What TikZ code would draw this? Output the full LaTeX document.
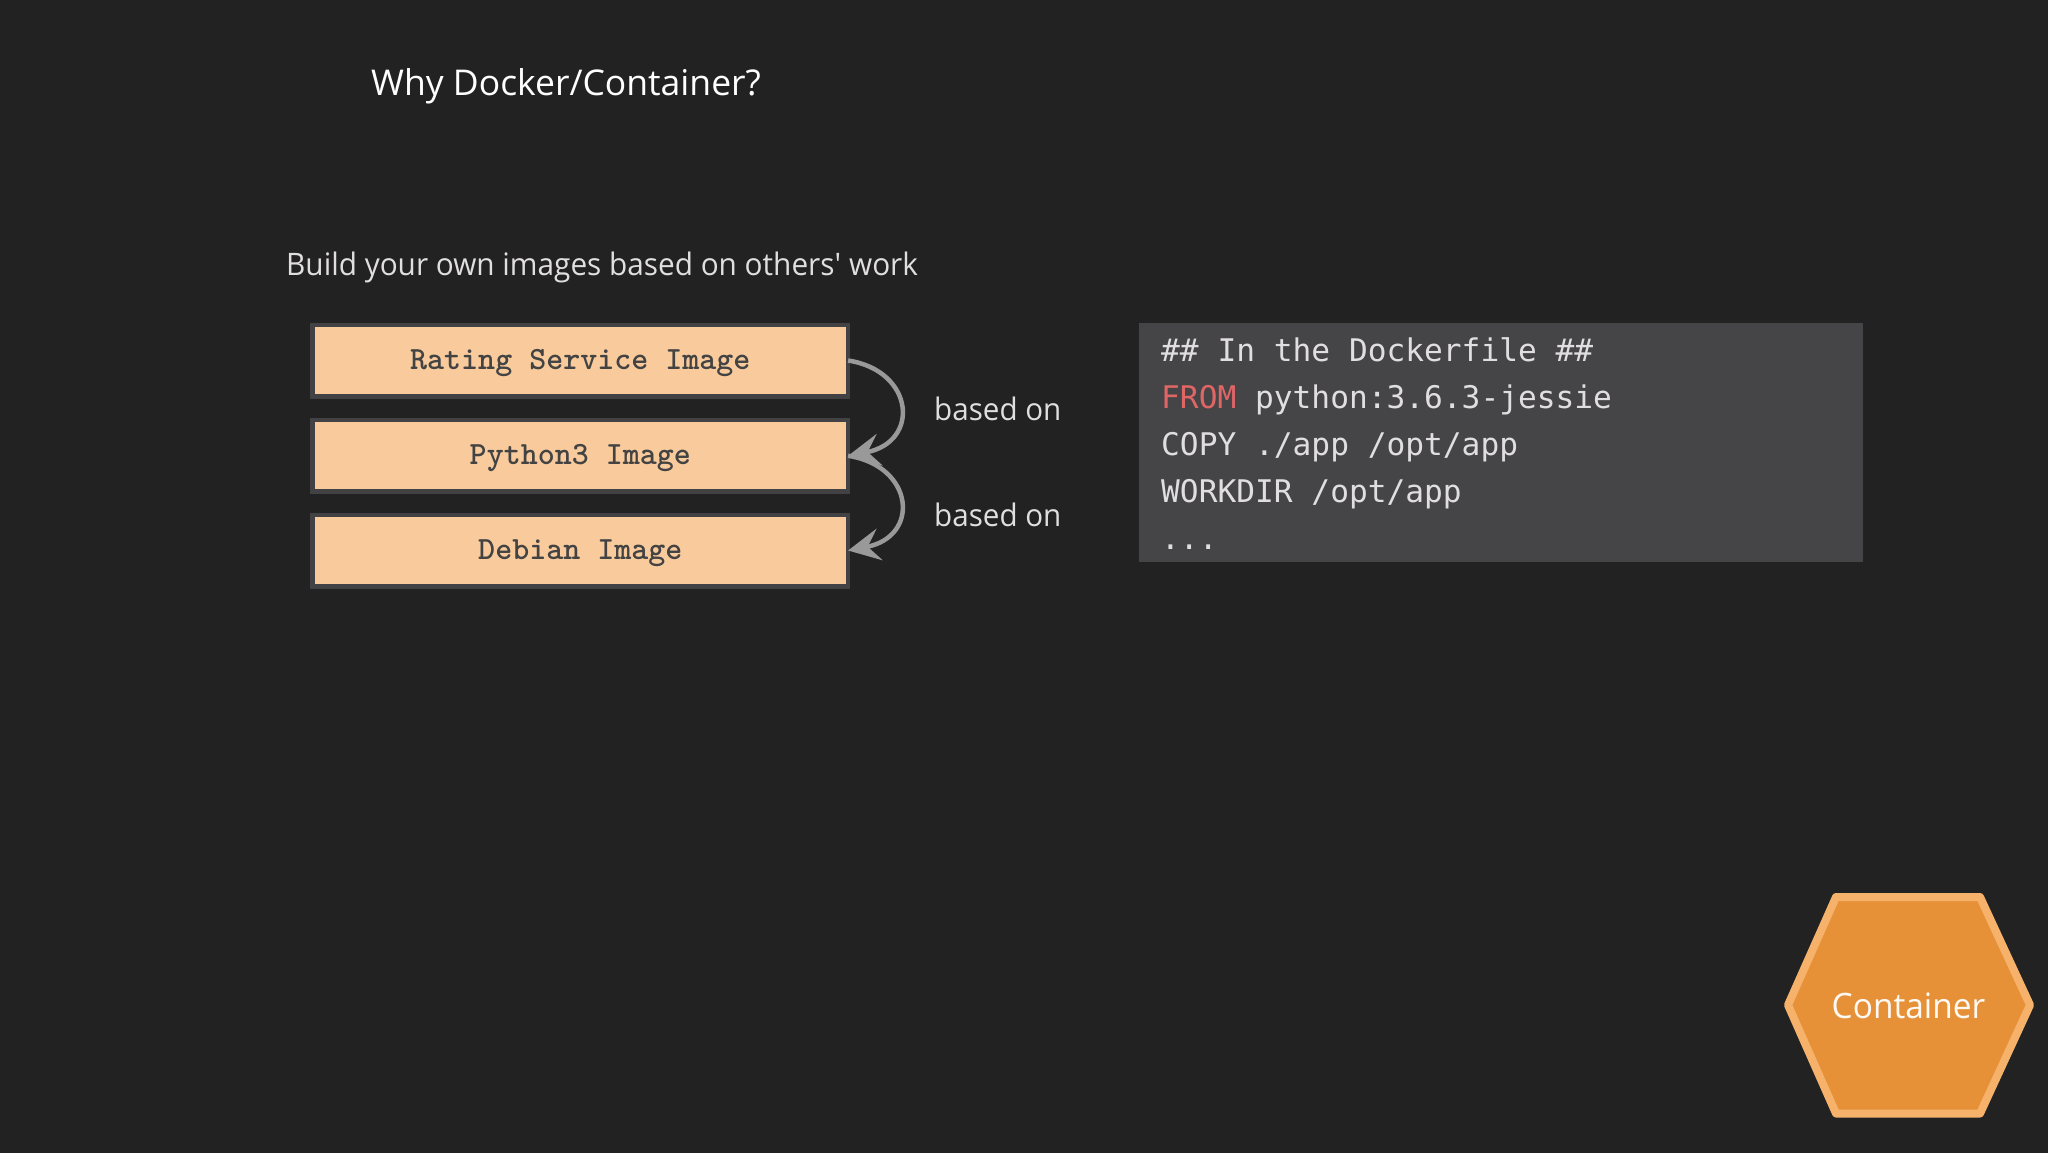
\documentclass[tikz,border=0pt]{standalone}
\usepackage{fontspec}
\setmainfont{Open Sans}
\newfontfamily\narrowfont[FakeStretch=0.955]{Open Sans}
\newfontfamily\subfont[FakeStretch=0.96]{Open Sans}
\newfontfamily\codefont{DejaVu Sans Mono}
\usetikzlibrary{arrows.meta}
\definecolor{bg}{HTML}{222222}
\definecolor{boxfill}{HTML}{F9CB9C}
\definecolor{boxline}{HTML}{424244}
\definecolor{boxtext}{HTML}{434343}
\definecolor{codebg}{HTML}{454446}
\definecolor{codetxt}{HTML}{E0DEDE}
\definecolor{fromred}{HTML}{E06666}
\definecolor{arrowc}{HTML}{999999}
\definecolor{hexfill}{HTML}{E69138}
\definecolor{hexline}{HTML}{F6B26B}
\tikzset{
  imgbox/.style={draw=boxline,fill=boxfill,line width=4.5pt,minimum width=535.5pt,minimum height=71.5pt,outer sep=0pt,inner sep=0pt,
    text=boxtext,font=\ttfamily\bfseries\fontsize{32.4}{38}\selectfont,text height=22.6pt,text depth=5pt},
  based/.style={-{Stealth[length=32pt,width=32pt,inset=12pt]},draw=arrowc,line width=4.5pt},
  codeline/.style={anchor=base west,inner sep=0pt,text=codetxt,font=\codefont\fontsize{31.2}{38}\selectfont},
  lbl/.style={anchor=base west,inner sep=0pt,text=#1},
}
\begin{document}
\begin{tikzpicture}[x=1pt,y=-1pt]
\useasboundingbox (0,0) rectangle (2048,1152);
\fill[bg] (-5,-5) rectangle (2053,1157);
\node[lbl=white,font=\fontsize{35.5}{42}\selectfont] (title) at (371,95) {Why Docker/Container?};
\node[lbl=codetxt,font=\subfont\fontsize{31}{38}\selectfont] (sub) at (286,275) {Build your own images based on others\textquotesingle{} work};
\node[imgbox] (b1) at (580.3,360.5) {Rating Service Image};
\node[imgbox] (b2) at (580.3,455.8) {Python3 Image};
\node[imgbox] (b3) at (580.3,550.5) {Debian Image};
\draw[based] (b1.east) .. controls +(66,10) and +(73,-14) .. (b2.east);
\draw[based] (b2.east) .. controls +(66,10) and +(73,-14) .. (b3.east);
\node[lbl=codetxt,font=\narrowfont\fontsize{31}{38}\selectfont] (on1) at (934,420.5) {based on};
\node[lbl=codetxt,font=\narrowfont\fontsize{31}{38}\selectfont] (on2) at (934,526.7) {based on};
\node[fill=codebg,minimum width=724pt,minimum height=238.4pt,inner sep=0pt,outer sep=0pt] (code) at (1501.4,442.5) {};
\node[codeline] (c1) at (1161,361) {\#\# In the Dockerfile \#\#};
\node[codeline] (c2) at (1161,408.2) {\textcolor{fromred}{FROM} python:3.6.3-jessie};
\node[codeline] (c3) at (1161,455.4) {COPY ./app /opt/app};
\node[codeline] (c4) at (1161,502.6) {WORKDIR /opt/app};
\node[codeline] (c5) at (1161,549.8) {...};
\draw[draw=hexline,fill=hexfill,line width=8pt,line join=round]
  (1836,897) -- (1980,897) -- (2030,1005) -- (1980,1113.5) -- (1836,1113.5) -- (1788,1005) -- cycle;
\node[anchor=base,inner sep=0pt,text=white!92!hexline,font=\narrowfont\fontsize{35}{42}\selectfont] (hex) at (1908.5,1018) {Container};
\end{tikzpicture}
\end{document}
